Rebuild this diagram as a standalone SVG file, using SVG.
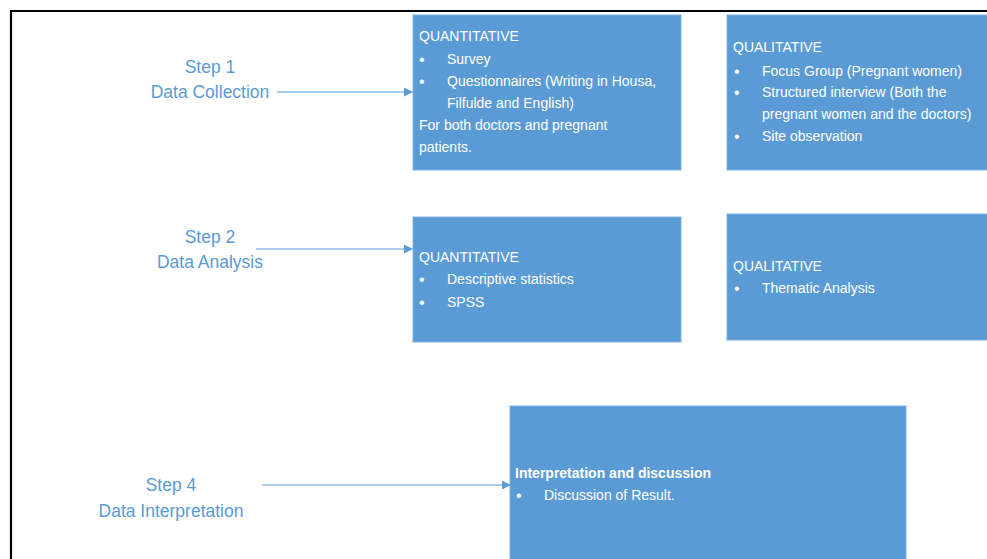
<svg xmlns="http://www.w3.org/2000/svg" width="987" height="559" viewBox="0 0 987 559">
<style>
.box{fill:#5B9BD5;stroke:#7FB1E0;stroke-width:1}
.bt{font-family:"Liberation Sans",Arial,sans-serif;font-size:14px;fill:#FFFFFF}
.bul{font-family:"Liberation Sans",Arial,sans-serif;font-size:16px;fill:#FFFFFF}
.step{font-family:"Liberation Sans",Arial,sans-serif;font-size:17.5px;fill:#5B9BD5;text-anchor:middle}
.conn{stroke:#5B9BD5;stroke-width:1.2;fill:none;marker-end:url(#ah)}
</style>
<defs>
<marker id="ah" markerWidth="9" markerHeight="9" refX="8" refY="4.5" orient="auto" markerUnits="userSpaceOnUse">
<path d="M0,0 L9,4.5 L0,9 Z" fill="#5B9BD5"/>
</marker>
</defs>
<rect width="987" height="559" fill="#FFFFFF"/>
<path d="M11,559 V11 H987" stroke="#000000" stroke-width="2.2" fill="none"/>

<g id="step1">
<text class="step" x="210" y="73">Step 1</text>
<text class="step" x="210" y="98">Data Collection</text>
</g>
<g id="step2">
<text class="step" x="210" y="243">Step 2</text>
<text class="step" x="210" y="268">Data Analysis</text>
</g>
<g id="step4">
<text class="step" x="171" y="491">Step 4</text>
<text class="step" x="171" y="517">Data Interpretation</text>
</g>

<g id="quant1">
<rect class="box" x="413" y="15" width="268" height="155"/>
<text class="bt" x="419" y="41">QUANTITATIVE</text>
<text class="bul" x="419" y="65">•</text><text class="bt" x="447" y="64">Survey</text>
<text class="bul" x="419" y="87">•</text><text class="bt" x="447" y="86">Questionnaires (Writing in Housa,</text>
<text class="bt" x="447" y="108">Filfulde and English)</text>
<text class="bt" x="419" y="130">For both doctors and pregnant</text>
<text class="bt" x="419" y="152">patients.</text>
</g>
<g id="qual1">
<rect class="box" x="727" y="15" width="262" height="155"/>
<text class="bt" x="733" y="52">QUALITATIVE</text>
<text class="bul" x="734" y="77">•</text><text class="bt" x="762" y="76">Focus Group (Pregnant women)</text>
<text class="bul" x="734" y="98">•</text><text class="bt" x="762" y="97">Structured interview (Both the</text>
<text class="bt" x="762" y="119">pregnant women and the doctors)</text>
<text class="bul" x="734" y="142">•</text><text class="bt" x="762" y="141">Site observation</text>
</g>
<g id="quant2">
<rect class="box" x="413" y="217" width="268" height="125"/>
<text class="bt" x="419" y="262">QUANTITATIVE</text>
<text class="bul" x="419" y="285">•</text><text class="bt" x="447" y="284">Descriptive statistics</text>
<text class="bul" x="419" y="308">•</text><text class="bt" x="447" y="307">SPSS</text>
</g>
<g id="qual2">
<rect class="box" x="727" y="214" width="262" height="126"/>
<text class="bt" x="733" y="271">QUALITATIVE</text>
<text class="bul" x="734" y="294">•</text><text class="bt" x="762" y="293">Thematic Analysis</text>
</g>
<g id="interp">
<rect class="box" x="510" y="406" width="396" height="155"/>
<text class="bt" x="515" y="478" font-weight="bold">Interpretation and discussion</text>
<text class="bul" x="516" y="501">•</text><text class="bt" x="544" y="500">Discussion of Result.</text>
</g>

<g id="connectors">
<line class="conn" x1="277" y1="92" x2="412" y2="92"/>
<line class="conn" x1="256" y1="249" x2="412" y2="249"/>
<line class="conn" x1="262" y1="485" x2="510" y2="485"/>
</g>
</svg>
